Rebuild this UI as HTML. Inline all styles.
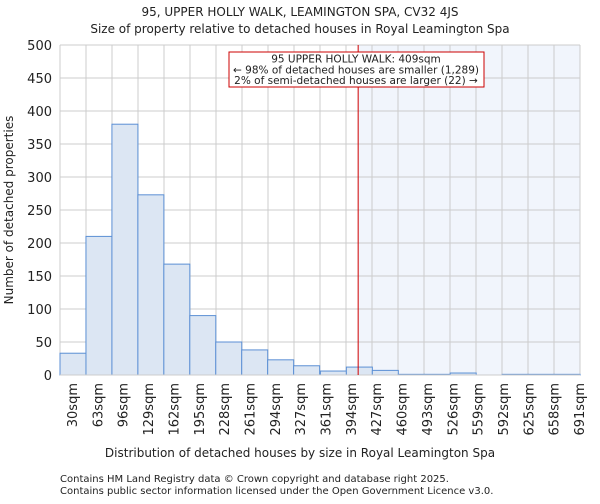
<!DOCTYPE html>
<html><head><meta charset="utf-8"><style>
body{margin:0;background:#fff;font-family:"DejaVu Sans","Liberation Sans",sans-serif;}
svg text{font-family:"DejaVu Sans","Liberation Sans",sans-serif;fill:#222;}
</style></head><body>
<svg id="chart" width="600" height="500" xmlns="http://www.w3.org/2000/svg">
<text x="300" y="16" font-size="12" text-anchor="middle">95, UPPER HOLLY WALK, LEAMINGTON SPA, CV32 4JS</text>
<text x="300" y="33" font-size="12" text-anchor="middle">Size of property relative to detached houses in Royal Leamington Spa</text>
<g id="plot"></g>
<text transform="translate(13,210) rotate(-90)" font-size="12" text-anchor="middle">Number of detached properties</text>
<text x="300" y="457" font-size="12" text-anchor="middle">Distribution of detached houses by size in Royal Leamington Spa</text>
<text x="60" y="482" font-size="10" fill="#444">Contains HM Land Registry data © Crown copyright and database right 2025.</text>
<text x="60" y="494" font-size="10" fill="#444">Contains public sector information licensed under the Open Government Licence v3.0.</text>
</svg>
<script>
const binStarts=[30,63,96,129,162,195,228,261,294,327,361,394,427,460,493,526,559,592,625,658];
const counts=[33,210,380,273,168,90,50,38,23,14,6,12,7,1,1,3,0,1,1,1];
const tickLabels=["30sqm","63sqm","96sqm","129sqm","162sqm","195sqm","228sqm","261sqm","294sqm","327sqm","361sqm","394sqm","427sqm","460sqm","493sqm","526sqm","559sqm","592sqm","625sqm","658sqm","691sqm"];
const yTicks=[0,50,100,150,200,250,300,350,400,450,500];
const propertySize=409;
const xMin=30,xMax=691,binW=661/20;
const L=60,R=580,T=45,B=375;
const NS="http://www.w3.org/2000/svg";
const g=document.getElementById('plot');
const x=v=>L+(v-xMin)/(xMax-xMin)*(R-L);
const y=v=>B-v/500*(B-T);
function mk(t,a){const e=document.createElementNS(NS,t);for(const k in a)e.setAttribute(k,a[k]);g.appendChild(e);return e;}
const shade=mk('rect',{x:x(propertySize),y:T,width:R-x(propertySize),height:B-T,fill:'#f1f5fc'});


yTicks.forEach(v=>{const l=mk('line',{x1:L,x2:R,y1:y(v),y2:y(v),stroke:'#ccc','stroke-width':1});


const t=mk('text',{x:L-8,y:y(v)+5,'font-size':13,'text-anchor':'end'});t.textContent=v;

});
tickLabels.forEach((s,i)=>{const px=73+i*(R+13-73)/20*0.975;const gl=mk('line',{x1:L+i*26,x2:L+i*26,y1:T,y2:B,stroke:'#ccc','stroke-width':1});


const t=mk('text',{transform:`translate(${px+4},${B+8}) rotate(-90)`,'font-size':13,'text-anchor':'end'});t.textContent=s;

});
counts.forEach((c,i)=>{const x0=x(binStarts[i]),x1=x(binStarts[i]+binW);const r=mk('rect',{x:x0,y:y(c),width:x1-x0,height:B-y(c),fill:'#dce6f3',stroke:'#5b8fd4','stroke-width':1});

});
const ax=mk('line',{x1:L,x2:R,y1:B,y2:B,stroke:'#ccc'});


const rl=mk('line',{x1:x(propertySize),x2:x(propertySize),y1:T,y2:B,stroke:'#d00000','stroke-width':1});


const box=mk('rect',{x:229,y:52,width:255,height:35,fill:'#fff',stroke:'#cc0000'});


["95 UPPER HOLLY WALK: 409sqm","← 98% of detached houses are smaller (1,289)","2% of semi-detached houses are larger (22) →"].forEach((s,i)=>{const t=mk('text',{x:356,y:62.5+i*10.8,'font-size':10.5,'text-anchor':'middle'});t.textContent=s;

});
</script>
</body></html>
